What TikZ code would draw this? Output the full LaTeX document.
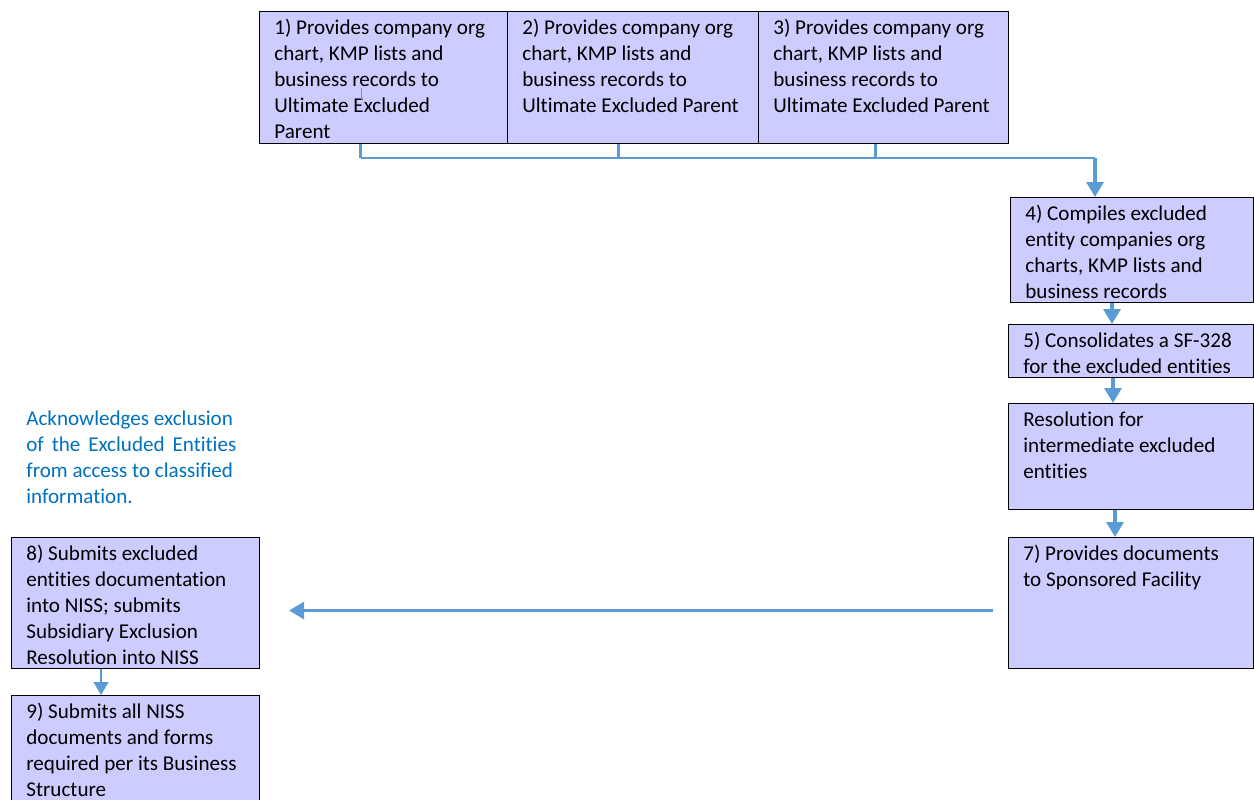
\documentclass[tikz,border=0pt]{standalone}
\usepackage{fontspec}
\setmainfont{Carlito}[Ligatures=NoCommon]
\usetikzlibrary{arrows.meta,positioning}
\definecolor{boxfill}{HTML}{CCCCFF}
\definecolor{linkblue}{HTML}{5B9BD5}
\definecolor{noteblue}{HTML}{0070C0}
\tikzset{
	stepbox/.style={draw=black, line width=0.6pt, fill=boxfill, anchor=north west, inner sep=0pt},
	steptext/.style={anchor=north west, align=left, inner xsep=0.3cm, inner ysep=0.16cm, font=\fontsize{12}{14.8}\selectfont},
	notetext/.style={anchor=north west, align=justify, text width=4.2cm, inner sep=0pt, text=noteblue, font=\fontsize{12}{14.8}\selectfont},
	stub/.style={linkblue, line width=1.7pt},
	link/.style={linkblue, line width=1.2pt},
	flow/.style={linkblue, line width=1.8pt, -{Triangle[width=0.34cm,length=0.3cm]}},
}
\begin{document}
\begin{tikzpicture}
	\useasboundingbox (0,0) rectangle (25.08,-15.98);
	\clip (0,0) rectangle (25.08,-15.98);
	% top row
	\node[stepbox, minimum width=4.96cm, minimum height=2.64cm] (b1) at (5.18,-0.22) {};
	\node[stepbox, minimum width=5.02cm, minimum height=2.64cm] (b2) at (10.14,-0.22) {};
	\node[stepbox, minimum width=5.00cm, minimum height=2.64cm] (b3) at (15.16,-0.22) {};
	\node[steptext] (t1) at (b1.north west) {1) Provides company org\\chart, KMP lists and\\business records to\\Ultimate Excluded\\Parent};
	\node[steptext] (t2) at (b2.north west) {2) Provides company org\\chart, KMP lists and\\business records to\\Ultimate Excluded Parent};
	\node[steptext] (t3) at (b3.north west) {3) Provides company org\\chart, KMP lists and\\business records to\\Ultimate Excluded Parent};
	% right column
	\node[stepbox, minimum width=4.86cm, minimum height=2.10cm] (b4) at (20.2,-3.94) {};
	\node[stepbox, minimum width=4.9cm, minimum height=1.06cm] (b5) at (20.16,-6.48) {};
	\node[stepbox, minimum width=4.9cm, minimum height=2.12cm] (b6) at (20.16,-8.06) {};
	\node[stepbox, minimum width=4.9cm, minimum height=2.62cm] (b7) at (20.16,-10.74) {};
	\node[steptext] (t4) at (b4.north west) {4) Compiles excluded\\entity companies org\\charts, KMP lists and\\business records};
	\node[steptext] (t5) at (b5.north west) {5) Consolidates a SF-328\\for the excluded entities};
	\node[steptext] (t6) at (b6.north west) {Resolution for\\intermediate excluded\\entities};
	\node[steptext] (t7) at (b7.north west) {7) Provides documents\\to Sponsored Facility};
	% left column
	\node[notetext] (note) at (0.52,-8.21) {Acknowledges exclusion\\ \makebox[4.2cm][s]{of the Excluded Entities}\\from access to classified\\information.};
	\node[stepbox, minimum width=4.96cm, minimum height=2.62cm] (b8) at (0.22,-10.74) {};
	\node[stepbox, minimum width=4.96cm, minimum height=2.5cm] (b9) at (0.22,-13.9) {};
	\node[steptext] (t8) at (b8.north west) {8) Submits excluded\\entities documentation\\into NISS; submits\\Subsidiary Exclusion\\Resolution into NISS};
	\node[steptext] (t9) at (b9.north west) {9) Submits all NISS\\documents and forms\\required per its Business\\Structure};
	% bracket into 4
	\coordinate (bus) at (21.9,-3.16);
	\coordinate (s1) at ([xshift=-0.46cm]b1.south);
	\coordinate (s2) at ([xshift=-0.29cm]b2.south);
	\coordinate (s3) at ([xshift=-0.16cm]b3.south);
	\draw[stub] (s1) -- (s1 |- bus);
	\draw[stub] (s2) -- (s2 |- bus);
	\draw[stub] (s3) -- (s3 |- bus);
	\draw[link] (s1 |- bus) -- (bus);
	\draw[flow] (bus) -- (bus |- b4.north);
	\draw[linkblue, line width=0.5pt] (7.22,-1.76) -- (7.22,-2.0);
	% down the right column
	\coordinate (a4) at ([xshift=2.04cm]b4.south west);
	\coordinate (a5) at ([xshift=2.1cm]b5.south west);
	\coordinate (a6) at ([xshift=2.14cm]b6.south west);
	\draw[flow] (a4) -- (a4 |- b5.north);
	\draw[flow] (a5) -- (a5 |- b6.north);
	\draw[flow] (a6) -- (a6 |- b7.north);
	% across and down
	\draw[flow] ([xshift=-0.3cm,yshift=-0.15cm]b7.west) -- ([xshift=0.58cm,yshift=-0.15cm]b8.east);
	\coordinate (a8) at ([xshift=1.8cm]b8.south west);
	\draw[flow, line width=0.6pt, -{Triangle[width=0.3cm,length=0.26cm]}] (a8) -- (a8 |- b9.north);
\end{tikzpicture}
\end{document}
